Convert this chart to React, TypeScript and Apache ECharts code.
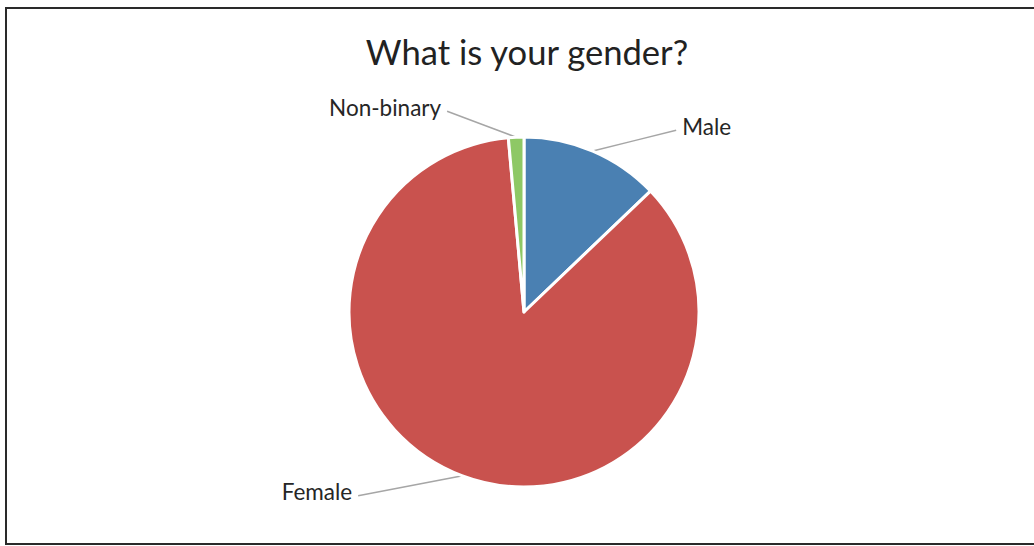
import React, { useEffect, useRef } from "react";
import * as echarts from "echarts";

const categories = ["Male", "Female", "Non-binary"];
const counts = [9, 60, 1];
const colors = ["#4a80b2", "#c9524e", "#8ec865"];
const lineLen2 = [83, 104, 69];
const labelShiftY = [-24, 15, -29];

export default function App() {
  const ref = useRef<HTMLDivElement>(null);
  useEffect(() => {
    if (!ref.current) return;
    const chart = echarts.init(ref.current, null, { renderer: "svg" });
    chart.setOption({
      animation: false,
      backgroundColor: "#ffffff",
      title: {
        text: "What is your gender?",
        left: 522,
        top: 29,
        textAlign: "center",
        textStyle: {
          fontFamily: "Lato",
          fontWeight: "normal",
          fontSize: 34.6,
          color: "#222222",
        },
      },
      graphic: [
        {
          type: "polyline",
          shape: { points: [[1040, 8], [6, 8], [6, 544], [1040, 544]] },
          style: { fill: "none", stroke: "#2a2a2a", lineWidth: 2 },
          silent: true,
        },
      ],
      series: [
        {
          type: "pie",
          center: [524, 312],
          radius: [0, 175],
          startAngle: 90,
          clockwise: true,
          avoidLabelOverlap: false,
          itemStyle: { borderColor: "#ffffff", borderWidth: 3 },
          label: {
            show: true,
            position: "outside",
            fontFamily: "Lato",
            fontSize: 22.5,
            color: "#262626",
            distanceToLabelLine: 6,
          },
          labelLine: {
            show: true,
            length: 1,
            lineStyle: { color: "#a6a6a6", width: 1.5 },
          },
          labelLayout: (params: any) => {
            const i = params.dataIndex;
            const dy = labelShiftY[i];
            const pts = params.labelLinePoints;
            if (!pts) return { dy };
            const start = pts[0];
            const end = [pts[2][0], pts[2][1] + dy + 4];
            const mid = [(start[0] + end[0]) / 2, (start[1] + end[1]) / 2];
            return { dy, labelLinePoints: [start, mid, end] };
          },
          data: categories.map((name, i) => ({
            name,
            value: counts[i],
            itemStyle: { color: colors[i] },
            labelLine: { length: 1, length2: lineLen2[i] },
          })),
        },
      ],
    });
    return () => chart.dispose();
  }, []);
  return (
    <div
      ref={ref}
      style={{ position: "absolute", left: 0, top: 0, width: 1034, height: 546, background: "#fff" }}
    />
  );
}
